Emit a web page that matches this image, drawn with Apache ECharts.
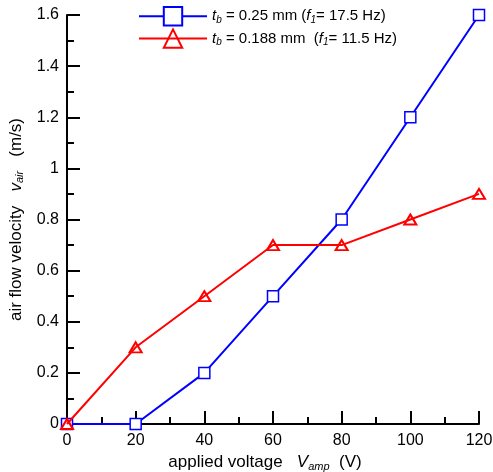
<!DOCTYPE html>
<html><head><meta charset="utf-8">
<script src="https://cdn.jsdelivr.net/npm/echarts@6/dist/echarts.min.js"></script>
<style>html,body{margin:0;padding:0;background:#fff}#c{width:493px;height:472px}</style>
</head><body><div id="c"></div>
<script>
const voltages = [0, 20, 40, 60, 80, 100, 120];
const velocity025 = [0, 0, 0.2, 0.5, 0.8, 1.2, 1.6];
const velocity0188 = [0, 0.3, 0.5, 0.7, 0.7, 0.8, 0.9];
const seriesNames = ['tb025', 'tb0188'];
const legendLabels = {
  tb025: '{i|t}{sub|b} = 0.25 mm ({i|f}{sub|1}= 17.5 Hz)',
  tb0188: '{i|t}{sub|b} = 0.188 mm  ({i|f}{sub|1}= 11.5 Hz)'
};
const font = 'Liberation Sans, Arial, sans-serif';
const rich = {
  i: {fontStyle: 'italic', fontSize: 15, fontFamily: font, color: '#000'},
  sub: {fontStyle: 'italic', fontSize: 10, fontFamily: font, color: '#000', padding: [8, 0, 0, 0]}
};
const richName = {
  i: {fontStyle: 'italic', fontSize: 17, fontFamily: font, color: '#000'},
  sub: {fontStyle: 'italic', fontSize: 11, fontFamily: font, color: '#000', padding: [9, 0, 0, 0]}
};
const chart = echarts.init(document.getElementById('c'), null, {renderer: 'canvas'});
chart.setOption({
  animation: false,
  backgroundColor: '#fff',
  grid: {left: 67, right: 14, top: 15, bottom: 48, containLabel: false, outerBoundsMode: 'none'},
  legend: {
    left: 138, top: 6, orient: 'vertical', itemWidth: 68, itemHeight: 23, itemGap: 2,
    padding: 0,
    data: seriesNames,
    formatter: n => legendLabels[n],
    textStyle: {fontSize: 15, fontFamily: font, color: '#000', rich: rich}
  },
  xAxis: {
    type: 'value', min: 0, max: 120, interval: 20,
    name: 'applied voltage   {i|V}{sub|amp}  (V)', nameLocation: 'middle', nameGap: 26,
    nameTextStyle: {fontSize: 17, fontFamily: font, color: '#000', rich: richName, padding: [0, 16, 0, 0]},
    axisLine: {lineStyle: {color: '#000', width: 2}},
    axisTick: {inside: true, length: 13, lineStyle: {color: '#000', width: 2}},
    minorTick: {show: true, splitNumber: 2, length: 7, lineStyle: {color: '#000', width: 2}},
    axisLabel: {fontSize: 16, fontFamily: font, color: '#000', margin: 9},
    splitLine: {show: false}
  },
  yAxis: {
    type: 'value', min: 0, max: 1.6, interval: 0.2,
    name: 'air flow velocity   {i|v}{sub|air}   (m/s)', nameLocation: 'middle', nameGap: 34, nameRotate: 90,
    nameTextStyle: {fontSize: 17, fontFamily: font, color: '#000', rich: richName},
    axisLine: {show: true, lineStyle: {color: '#000', width: 2}},
    axisTick: {show: true, inside: true, length: 13, lineStyle: {color: '#000', width: 2}},
    minorTick: {show: true, splitNumber: 2, length: 7, lineStyle: {color: '#000', width: 2}},
    axisLabel: {fontSize: 16, fontFamily: font, color: '#000', margin: 8},
    splitLine: {show: false}
  },
  series: [
    {
      name: 'tb025', type: 'line', data: voltages.map((v, k) => [v, velocity025[k]]),
      symbol: 'rect', symbolSize: 11, color: '#0000ff',
      lineStyle: {color: '#0000ff', width: 2},
      itemStyle: {color: '#fff', borderColor: '#0000ff', borderWidth: 1.5},
      z: 3
    },
    {
      name: 'tb0188', type: 'line', data: voltages.map((v, k) => [v, velocity0188[k]]),
      symbol: 'triangle', symbolSize: [12, 10], color: '#ff0000',
      lineStyle: {color: '#ff0000', width: 2},
      itemStyle: {color: 'rgba(255,255,255,0)', borderColor: '#ff0000', borderWidth: 2},
      z: 4
    }
  ]
});
</script></body></html>
